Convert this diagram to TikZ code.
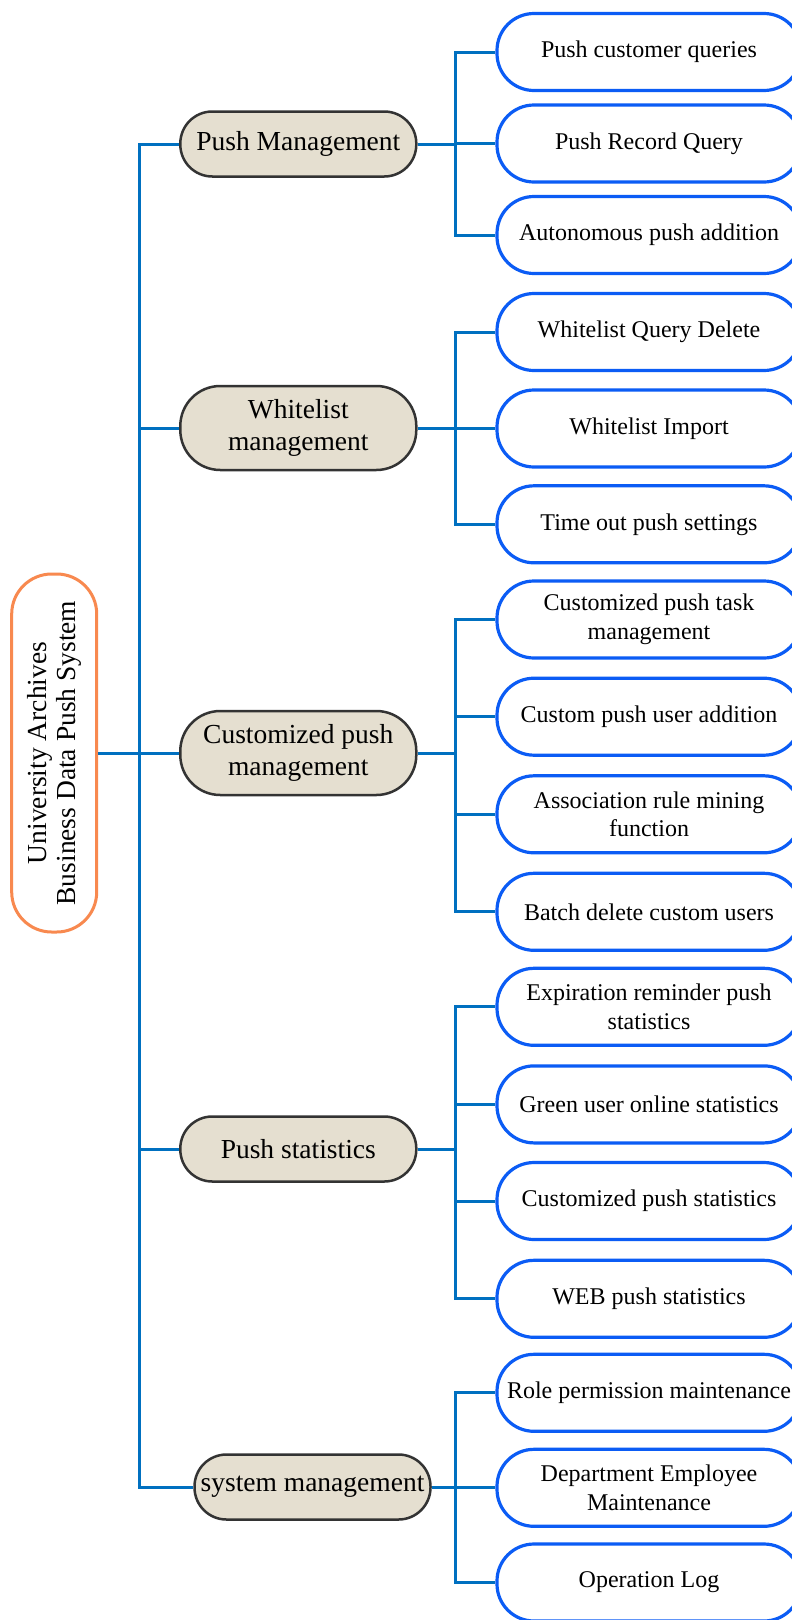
\documentclass[tikz,border=0pt]{standalone}
\usepackage{fontspec}
\setmainfont{Liberation Serif}
\definecolor{connblue}{HTML}{0070C0}
\definecolor{boxblue}{HTML}{0B5CF5}
\definecolor{lonefill}{HTML}{E5DFD0}
\definecolor{lonedraw}{HTML}{333333}
\definecolor{rootdraw}{HTML}{F8894F}
\tikzset{
  rootbox/.style={draw=rootdraw, line width=3pt, fill=white, rounded corners=40pt,
    rotate=90, minimum width=358pt, minimum height=85pt, inner sep=0pt, align=center,
    font=\fontsize{27.5}{29}\selectfont},
  lonebox/.style={draw=lonedraw, line width=2.5pt, fill=lonefill, rounded corners=32pt,
    minimum width=236pt, minimum height=65pt, inner sep=0pt, align=center,
    font=\fontsize{27.5}{32}\selectfont},
  lonetwo/.style={lonebox, rounded corners=40pt, minimum height=84pt},
  ltwobox/.style={draw=boxblue, line width=3.2pt, fill=white, rounded corners=37pt,
    minimum width=304pt, minimum height=77pt, inner sep=0pt, align=center,
    font=\fontsize{24}{28.5}\selectfont},
  conn/.style={draw=connblue, line width=3pt}
}
\begin{document}
\begin{tikzpicture}[x=1pt, y=-1pt]
\useasboundingbox (0,0) rectangle (792,1620);
\clip (0,0) rectangle (792,1620);
\fill[white] (0,0) rectangle (792,1620);
\coordinate (tk) at (139,753);
\coordinate (bx) at (455,753);

\node[rootbox] (root) at (54.2,753) {University Archives\\Business Data Push System};
\node[lonebox] (pm) at (298.3,144) {Push Management};
\node[lonetwo] (wm) at (298.3,428) {Whitelist\\management};
\node[lonetwo] (cpm) at (298.3,753) {Customized push\\management};
\node[lonebox] (ps) at (298.3,1149) {Push statistics};
\node[lonebox] (sm) at (312.5,1487) {system management};

\node[ltwobox] (a1) at (649,52) {Push customer queries};
\node[ltwobox] (a2) at (649,143.5) {Push Record Query};
\node[ltwobox] (a3) at (649,235) {Autonomous push addition};
\node[ltwobox] (b1) at (649,332) {Whitelist Query Delete};
\node[ltwobox] (b2) at (649,428.5) {Whitelist Import};
\node[ltwobox] (b3) at (649,524.3) {Time out push settings};
\node[ltwobox] (c1) at (649,619.5) {Customized push task\\management};
\node[ltwobox] (c2) at (649,716.7) {Custom push user addition};
\node[ltwobox] (c3) at (649,814.3) {Association rule mining\\function};
\node[ltwobox] (c4) at (649,911.8) {Batch delete custom users};
\node[ltwobox] (d1) at (649,1006.8) {Expiration reminder push\\statistics};
\node[ltwobox] (d2) at (649,1104.4) {Green user online statistics};
\node[ltwobox] (d3) at (649,1201) {Customized push statistics};
\node[ltwobox] (d4) at (649,1298.8) {WEB push statistics};
\node[ltwobox] (e1) at (649,1392.8) {Role permission maintenance};
\node[ltwobox] (e2) at (649,1487.8) {Department Employee\\Maintenance};
\node[ltwobox] (e3) at (649,1582.5) {Operation Log};

\draw[conn] (root.south) -- (cpm.west);
\draw[conn] (pm.west) -| (tk) |- (sm.west);
\draw[conn] (wm.west) -- (wm.west -| tk);
\draw[conn] (ps.west) -- (ps.west -| tk);
\foreach \p/\c in {pm/a1,pm/a2,pm/a3,wm/b1,wm/b2,wm/b3,cpm/c1,cpm/c2,cpm/c3,cpm/c4,ps/d1,ps/d2,ps/d3,ps/d4,sm/e1,sm/e2,sm/e3}{
  \draw[conn] (\p.east) -- (\p.east -| bx) |- (\c.west);
}
\end{tikzpicture}
\end{document}
